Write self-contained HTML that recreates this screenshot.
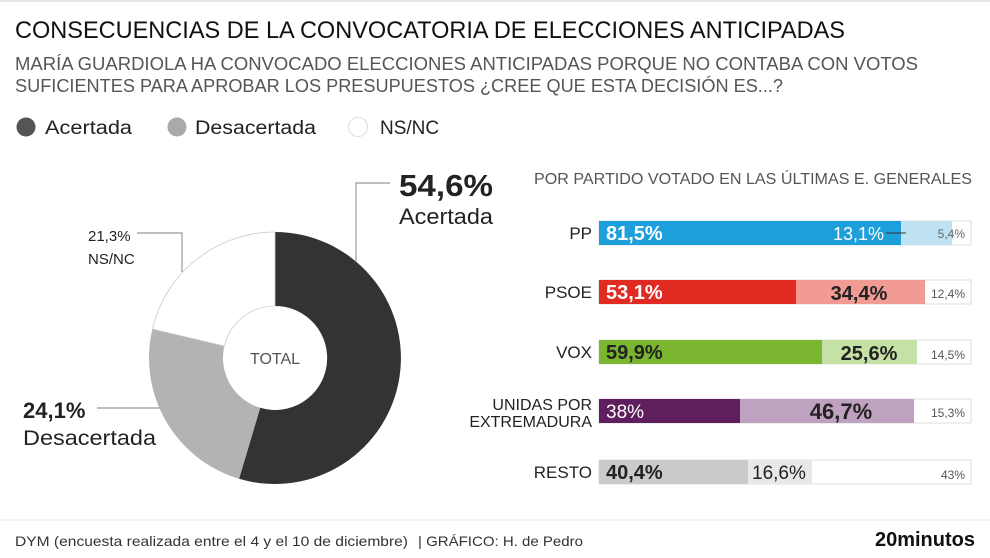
<!DOCTYPE html>
<html><head><meta charset="utf-8"><style>
body{margin:0;background:#fff;}
svg{display:block;font-family:"Liberation Sans",sans-serif;}
</style></head><body>
<svg width="990" height="558" viewBox="0 0 990 558">
<rect width="990" height="558" fill="#fff"/>
<line x1="0" y1="1" x2="990" y2="1" stroke="#e6e6e6" stroke-width="2"/>
<text x="15" y="38" font-size="24" fill="#111" textLength="830" lengthAdjust="spacingAndGlyphs">CONSECUENCIAS DE LA CONVOCATORIA DE ELECCIONES ANTICIPADAS</text>
<text x="15" y="70" font-size="18" fill="#555" textLength="903" lengthAdjust="spacingAndGlyphs">MARÍA GUARDIOLA HA CONVOCADO ELECCIONES ANTICIPADAS PORQUE NO CONTABA CON VOTOS</text>
<text x="15" y="92" font-size="18" fill="#555" textLength="768" lengthAdjust="spacingAndGlyphs">SUFICIENTES PARA APROBAR LOS PRESUPUESTOS ¿CREE QUE ESTA DECISIÓN ES...?</text>
<circle cx="26" cy="127" r="9.5" fill="#555"/>
<text x="45" y="134" font-size="19" fill="#222" textLength="87" lengthAdjust="spacingAndGlyphs">Acertada</text>
<circle cx="177" cy="127" r="9.5" fill="#aaa"/>
<text x="195" y="134" font-size="19" fill="#222" textLength="121" lengthAdjust="spacingAndGlyphs">Desacertada</text>
<circle cx="358" cy="127" r="9.5" fill="#fff" stroke="#ddd"/>
<text x="380" y="134" font-size="19" fill="#222">NS/NC</text>

<path d="M275,232 A126,126 0 1 1 239.1,478.8 L260.2,407.8 A52,52 0 1 0 275,306 Z" fill="#333"/>
<path d="M239.1,478.8 A126,126 0 0 1 152.4,329 L224.4,346 A52,52 0 0 0 260.2,407.8 Z" fill="#b3b3b3"/>
<path d="M152.4,329 A126,126 0 0 1 275,232 L275,306 A52,52 0 0 0 224.4,346 Z" fill="#fff" stroke="#ccc" stroke-width="0.8"/>
<text x="275" y="364" font-size="16" fill="#555" text-anchor="middle">TOTAL</text>

<polyline points="390,183 356,183 356,262" fill="none" stroke="#999" stroke-width="1.2"/>
<text x="399" y="196" font-size="31" font-weight="bold" fill="#222" textLength="94" lengthAdjust="spacingAndGlyphs">54,6%</text>
<text x="399" y="224" font-size="22" fill="#222" textLength="94" lengthAdjust="spacingAndGlyphs">Acertada</text>
<polyline points="137,233 182,233 182,272" fill="none" stroke="#999" stroke-width="1.2"/>
<text x="88" y="241" font-size="15" fill="#222">21,3%</text>
<text x="88" y="264" font-size="15" fill="#222">NS/NC</text>
<line x1="97" y1="408" x2="160" y2="408" stroke="#999" stroke-width="1.2"/>
<text x="23" y="418" font-size="22" font-weight="bold" fill="#222">24,1%</text>
<text x="23" y="445" font-size="21" fill="#222" textLength="133" lengthAdjust="spacingAndGlyphs">Desacertada</text>

<text x="534" y="184" font-size="16" fill="#555" textLength="438" lengthAdjust="spacingAndGlyphs">POR PARTIDO VOTADO EN LAS ÚLTIMAS E. GENERALES</text>

<g font-size="17" fill="#222" text-anchor="end">
<text x="592" y="239">PP</text>
<text x="592" y="298">PSOE</text>
<text x="592" y="358">VOX</text>
<text x="592" y="410" font-size="16">UNIDAS POR</text>
<text x="592" y="427" font-size="16">EXTREMADURA</text>
<text x="592" y="478">RESTO</text>
</g>

<!-- PP -->
<rect x="599" y="221" width="372" height="24" fill="#fff" stroke="#ddd"/>
<rect x="599" y="221" width="302" height="24" fill="#1c9fdb"/>
<rect x="901" y="221" width="51" height="24" fill="#c0e3f3"/>
<text x="606" y="240" font-size="20" font-weight="bold" fill="#fff">81,5%</text>
<text x="884" y="240" font-size="18" fill="#fff" text-anchor="end">13,1%</text>
<line x1="886" y1="233" x2="906" y2="233" stroke="#333"/>
<text x="965" y="238" font-size="12" fill="#666" text-anchor="end">5,4%</text>
<!-- PSOE -->
<rect x="599" y="280" width="372" height="24" fill="#fff" stroke="#ddd"/>
<rect x="599" y="280" width="197" height="24" fill="#e12a21"/>
<rect x="796" y="280" width="129" height="24" fill="#f19b94"/>
<text x="606" y="299" font-size="20" font-weight="bold" fill="#fff">53,1%</text>
<text x="859" y="300" font-size="20" font-weight="bold" fill="#222" text-anchor="middle">34,4%</text>
<text x="965" y="298" font-size="12" fill="#555" text-anchor="end">12,4%</text>
<!-- VOX -->
<rect x="599" y="340" width="372" height="24" fill="#fff" stroke="#ddd"/>
<rect x="599" y="340" width="223" height="24" fill="#7ab62f"/>
<rect x="822" y="340" width="95" height="24" fill="#c5e1a5"/>
<text x="606" y="359" font-size="20" font-weight="bold" fill="#222">59,9%</text>
<text x="869" y="360" font-size="20" font-weight="bold" fill="#222" text-anchor="middle">25,6%</text>
<text x="965" y="359" font-size="12" fill="#555" text-anchor="end">14,5%</text>
<!-- UPE -->
<rect x="599" y="399" width="372" height="24" fill="#fff" stroke="#ddd"/>
<rect x="599" y="399" width="141" height="24" fill="#5f1e5d"/>
<rect x="740" y="399" width="174" height="24" fill="#bfa2c0"/>
<text x="606" y="418" font-size="19" fill="#fff">38%</text>
<text x="841" y="419" font-size="22" font-weight="bold" fill="#222" text-anchor="middle">46,7%</text>
<text x="965" y="417" font-size="12" fill="#555" text-anchor="end">15,3%</text>
<!-- RESTO -->
<rect x="599" y="460" width="372" height="24" fill="#fff" stroke="#ddd"/>
<rect x="599" y="460" width="149" height="24" fill="#cacaca"/>
<rect x="748" y="460" width="64" height="24" fill="#e8e8e8"/>
<text x="606" y="479" font-size="20" font-weight="bold" fill="#222">40,4%</text>
<text x="752" y="479" font-size="19" fill="#222">16,6%</text>
<text x="965" y="479" font-size="12" fill="#555" text-anchor="end">43%</text>

<line x1="0" y1="520" x2="990" y2="520" stroke="#e6e6e6"/>
<text x="15" y="546" font-size="14" fill="#333" textLength="393" lengthAdjust="spacingAndGlyphs">DYM (encuesta realizada entre el 4 y el 10 de diciembre)</text>
<text x="418" y="546" font-size="14" fill="#333" textLength="165" lengthAdjust="spacingAndGlyphs">|  GRÁFICO: H. de Pedro</text>
<text x="975" y="546" font-size="20" font-weight="bold" fill="#111" text-anchor="end">20minutos</text>
</svg>
</body></html>
